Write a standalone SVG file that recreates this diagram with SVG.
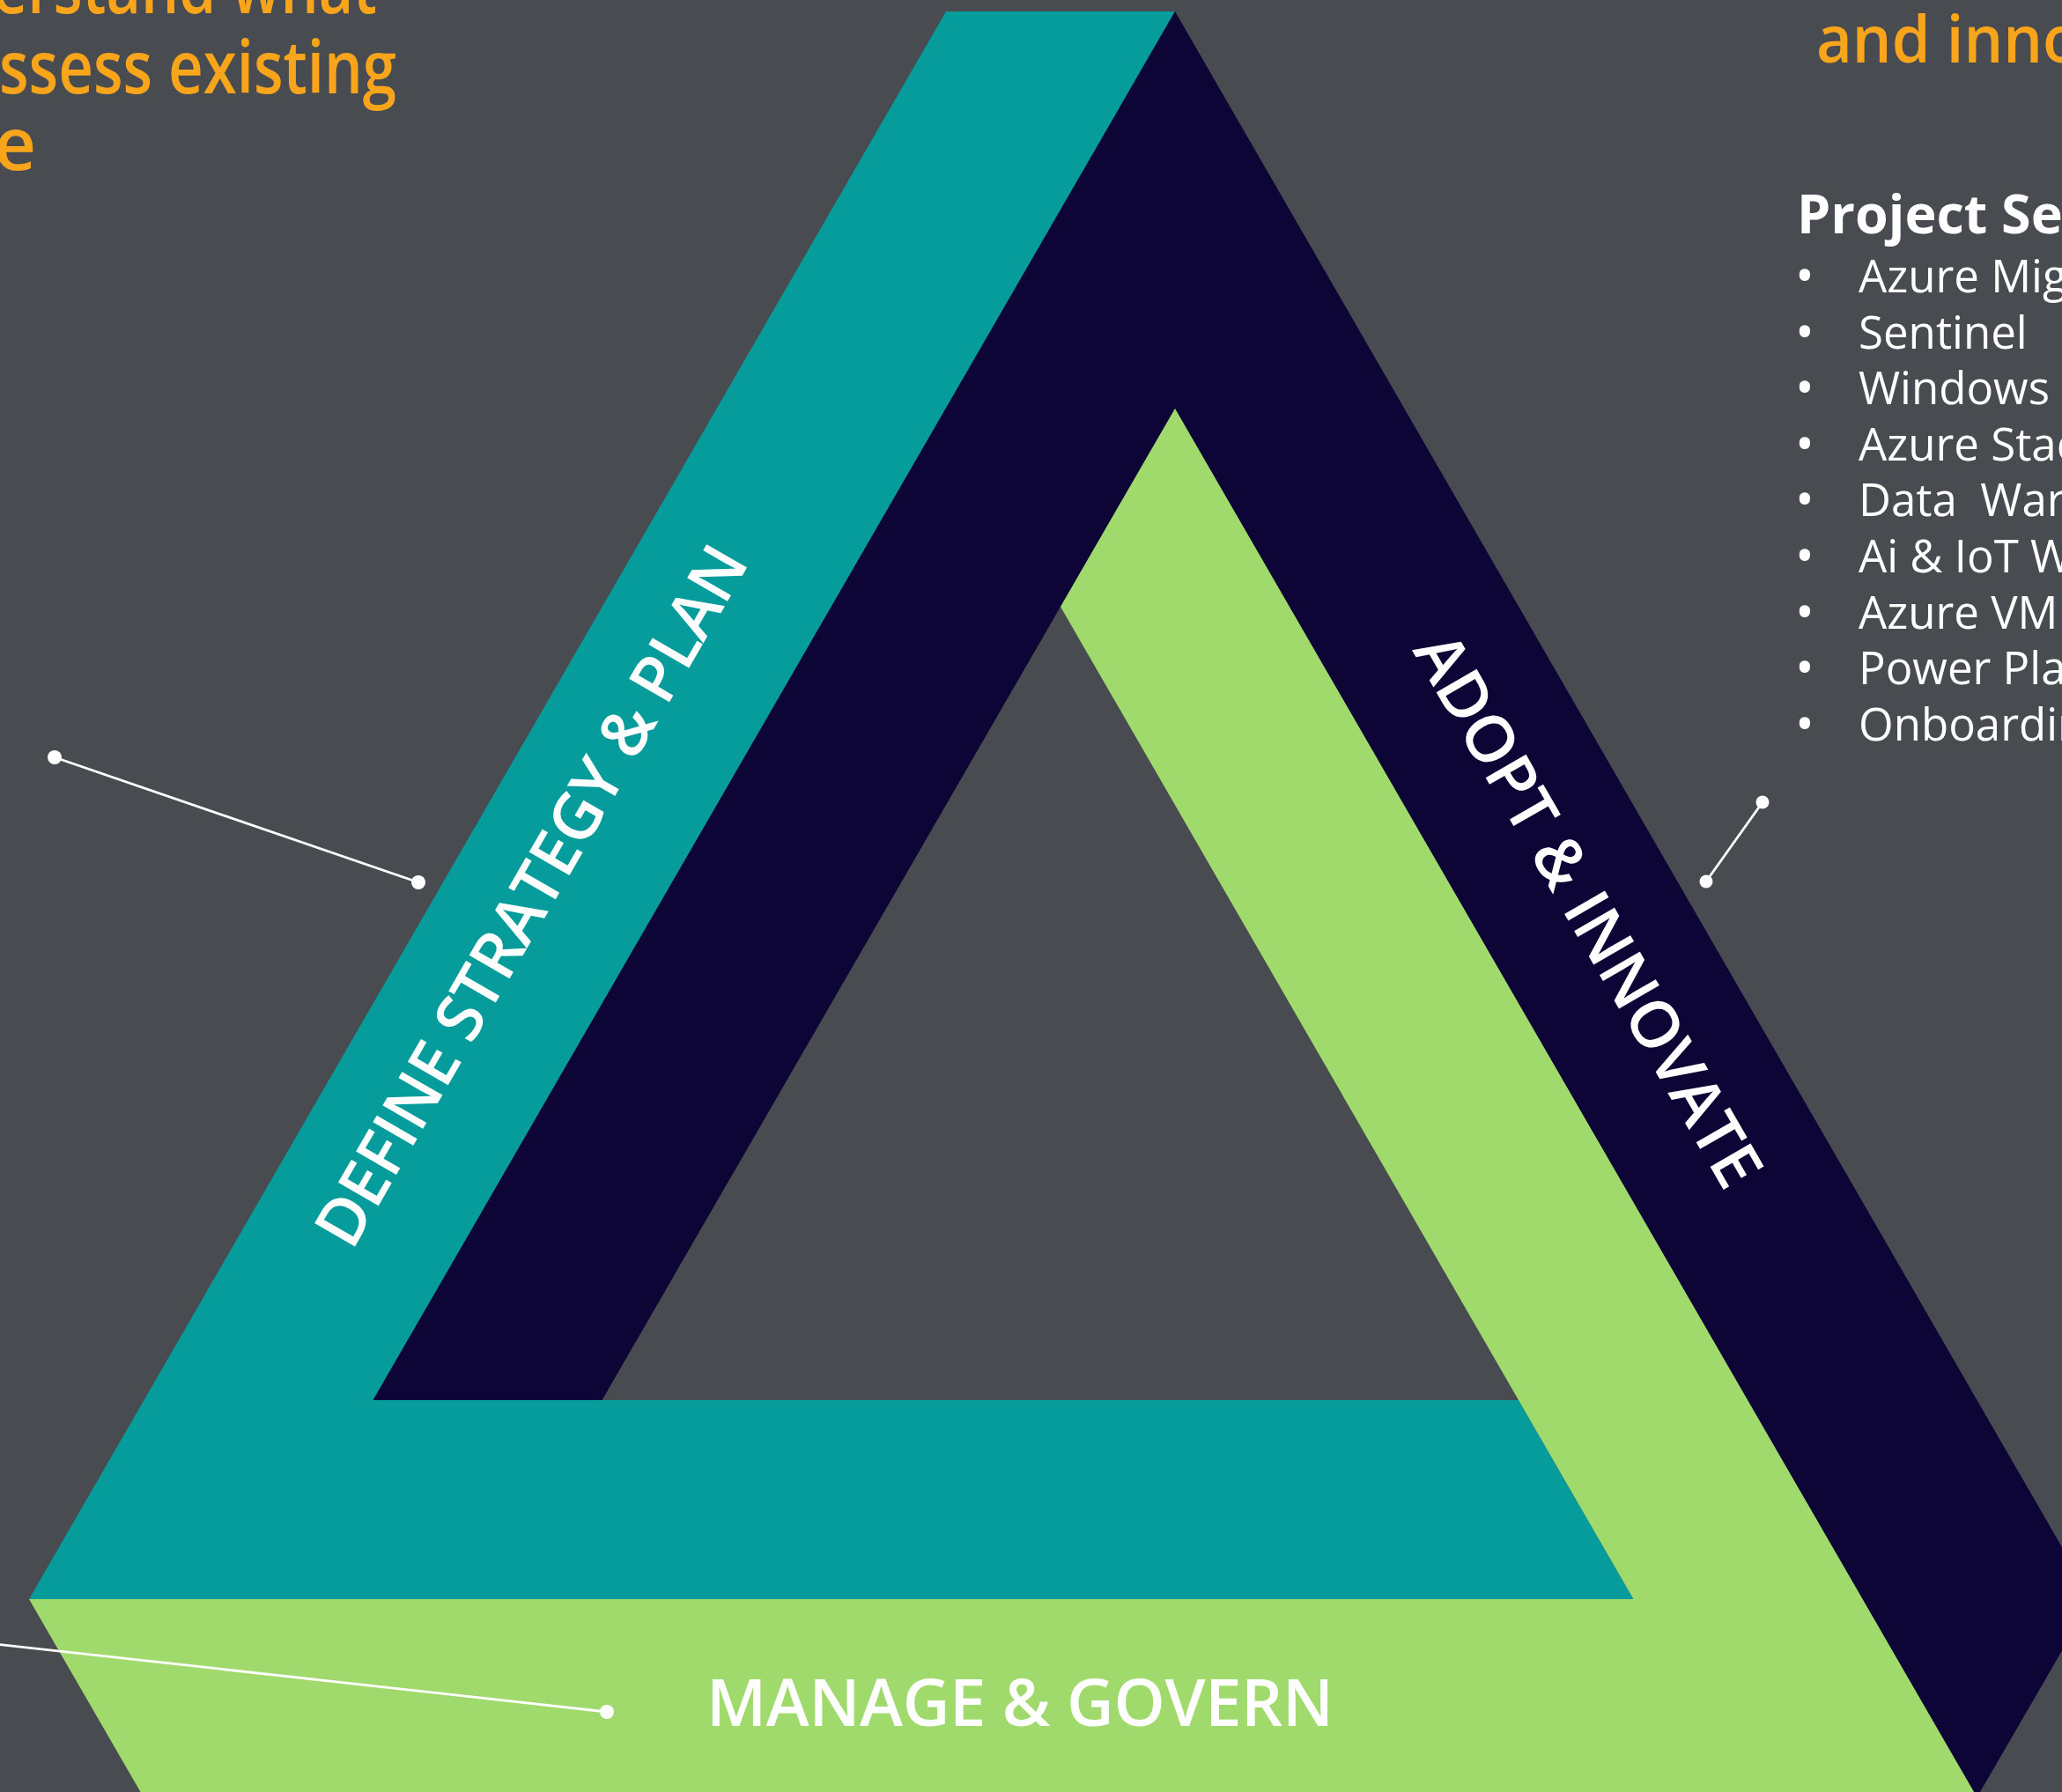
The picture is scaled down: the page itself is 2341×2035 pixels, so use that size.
<svg xmlns="http://www.w3.org/2000/svg" width="2341" height="2035" viewBox="0 0 2341 2035">
<style>
.lbl{font-family:"Open Sans","Noto Sans",sans-serif;font-size:74px;font-weight:600;fill:#ffffff;}
.head{font-family:"Open Sans","Noto Sans",sans-serif;font-weight:600;fill:#F9A51C;}
.item{font-family:"Open Sans","Noto Sans",sans-serif;font-size:51px;fill:#ffffff;white-space:pre;}
.title{font-family:"Open Sans","Noto Sans",sans-serif;font-size:61px;font-weight:700;fill:#ffffff;}
.b{font-size:58px;}
.cl{stroke:#ffffff;stroke-width:2.8;fill:none;}
.dot{fill:#ffffff;}
</style>
<rect width="2341" height="2035" fill="#484B50"/>
<g id="band-define">
<polygon points="1074,13 1334,13 423.5,1590 1724,1590 1854.5,1816 33,1816" fill="#069C9C"/>
<text class="lbl" text-anchor="middle" textLength="904" transform="translate(625.5,1030) rotate(-60)">DEFINE STRATEGY &amp; PLAN</text>
</g>
<g id="band-adopt">
<polygon points="1334,13 2375,1816 2244.5,2041 1334,464 1204,689 683.5,1590 423.5,1590" fill="#0C0536"/>
<text class="lbl" text-anchor="middle" textLength="712" transform="translate(1781,1046.5) rotate(60)">ADOPT &amp; INNOVATE</text>
</g>
<g id="band-manage">
<polygon points="1334,464 2244.5,2041 163,2041 33,1816 1854.5,1816 1204,689" fill="#A0DA6D"/>
<text class="lbl" x="1158" y="1960" text-anchor="middle" textLength="712">MANAGE &amp; GOVERN</text>
</g>
<g id="text-left">
<text class="head" font-size="83" x="-8" y="15" textLength="436" lengthAdjust="spacingAndGlyphs">erstand what</text>
<text class="head" font-size="83" x="-1" y="106" textLength="451" lengthAdjust="spacingAndGlyphs">ssess existing</text>
<text class="head" font-size="83" text-anchor="end" x="41" y="193">e</text>
</g>
<g id="text-right">
<text class="head" font-size="75" x="2062" y="71" textLength="300" lengthAdjust="spacingAndGlyphs">and inno</text>
<text class="title" x="2040" y="265">Project Se</text>
<text class="item" y="332"><tspan class="b" x="2038" dy="2">•</tspan><tspan x="2110" dy="-2">Azure Mig</tspan></text>
<text class="item" y="396"><tspan class="b" x="2038" dy="2">•</tspan><tspan x="2110" dy="-2">Sentinel</tspan></text>
<text class="item" y="459"><tspan class="b" x="2038" dy="2">•</tspan><tspan x="2110" dy="-2">Windows</tspan></text>
<text class="item" y="523"><tspan class="b" x="2038" dy="2">•</tspan><tspan x="2110" dy="-2">Azure Stac</tspan></text>
<text class="item" y="586"><tspan class="b" x="2038" dy="2">•</tspan><tspan x="2110" dy="-2">Data&#160; War</tspan></text>
<text class="item" y="650"><tspan class="b" x="2038" dy="2">•</tspan><tspan x="2110" dy="-2">Ai &amp; IoT W</tspan></text>
<text class="item" y="714"><tspan class="b" x="2038" dy="2">•</tspan><tspan x="2110" dy="-2">Azure VM</tspan></text>
<text class="item" y="777"><tspan class="b" x="2038" dy="2">•</tspan><tspan x="2110" dy="-2">Power Pla</tspan></text>
<text class="item" y="841"><tspan class="b" x="2038" dy="2">•</tspan><tspan x="2110" dy="-2">Onboardin</tspan></text>
</g>
<g id="connectors">
<line class="cl" x1="62" y1="860" x2="475" y2="1002"/>
<circle class="dot" cx="62" cy="860" r="8"/>
<circle class="dot" cx="475" cy="1002" r="8"/>
<line class="cl" x1="2001" y1="911" x2="1937" y2="1001"/>
<circle class="dot" cx="2001" cy="911" r="7.5"/>
<circle class="dot" cx="1937" cy="1001" r="7.5"/>
<line class="cl" x1="-5" y1="1867" x2="689" y2="1944"/>
<circle class="dot" cx="689" cy="1944" r="8"/>
</g>
</svg>
